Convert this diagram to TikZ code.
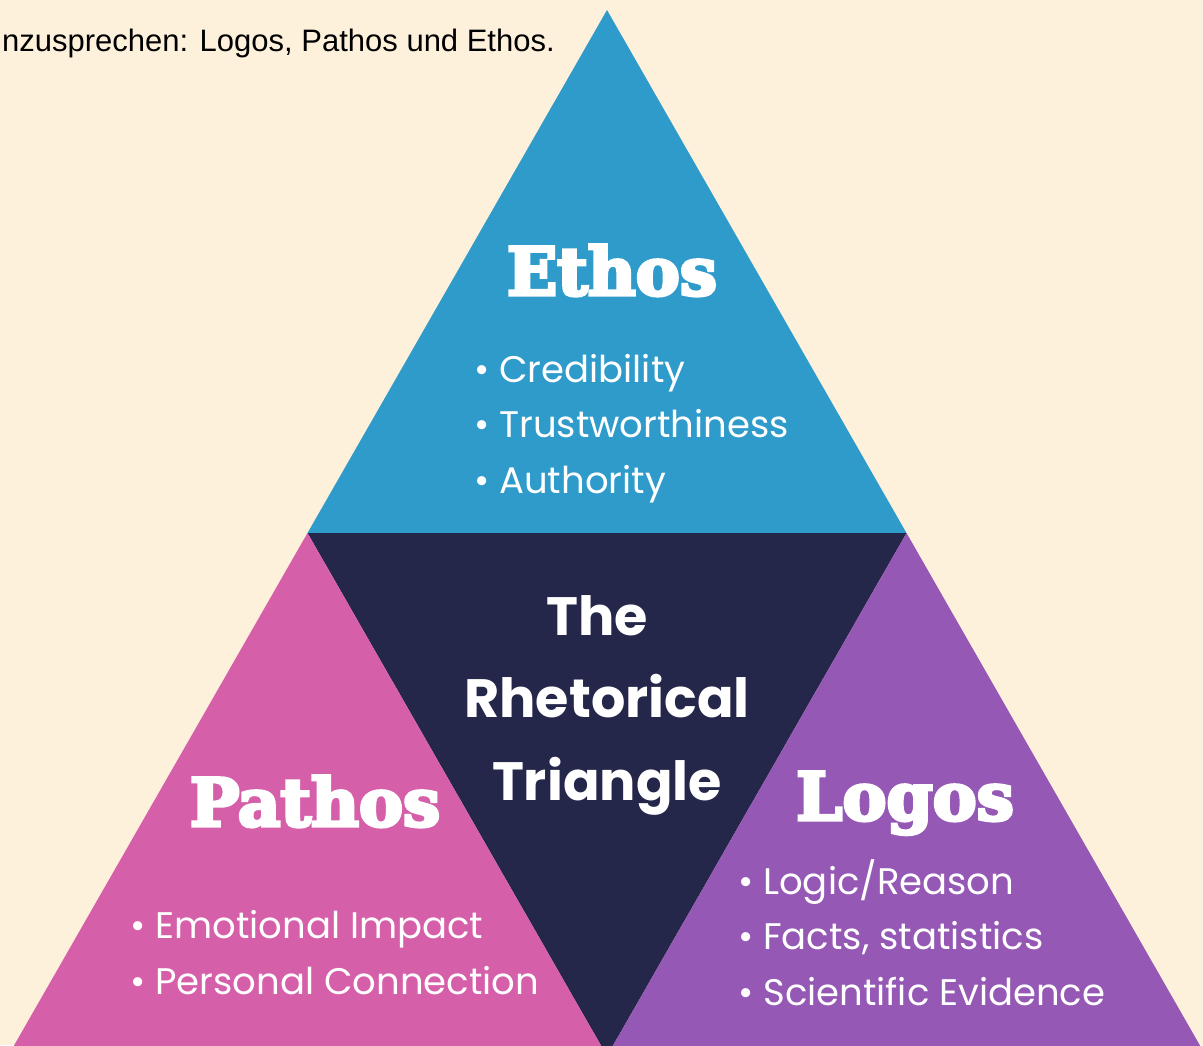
\documentclass[tikz,border=0pt]{standalone}
\usepackage{fontspec}
\setmainfont{Liberation Sans}
\newfontfamily\slabfont{DejaVu Serif Bold}[FakeBold=5]
\newfontfamily\popfont{Poppins}
\definecolor{bgc}{HTML}{FEF1DC}
\definecolor{ethosc}{HTML}{2F9BCB}
\definecolor{centerc}{HTML}{24264A}
\definecolor{pathosc}{HTML}{D65FAA}
\definecolor{logosc}{HTML}{9558B5}
\tikzset{
  head/.style={text=white, inner sep=0pt, font=\slabfont\fontsize{66}{66}\selectfont},
  maintitle/.style={text=white, inner sep=0pt, align=center, font=\popfont\bfseries\fontsize{54}{82.5}\selectfont},
  blist/.style={text=white, inner sep=0pt, align=left, font=\popfont\fontsize{37}{55.5}\selectfont},
  intro/.style={text=black, inner sep=0pt, font=\fontsize{31}{34}\selectfont},
}
\begin{document}
\begin{tikzpicture}[x=1pt,y=-1pt]
\useasboundingbox (0,0) rectangle (1203,1045);
\clip (0,0) rectangle (1203,1045);
\fill[bgc] (0,0) rectangle (1203,1045);
\coordinate (apex) at (607,10);
\coordinate (ml) at (307.5,533);
\coordinate (mr) at (906.5,533);
\coordinate (bl) at (8,1056);
\coordinate (bm) at (607,1056);
\coordinate (br) at (1206,1056);
\fill[ethosc] (apex) -- (ml) -- (mr) -- cycle;
\fill[centerc] (ml) -- (mr) -- (bm) -- cycle;
\fill[pathosc] (ml) -- (bl) -- (bm) -- cycle;
\fill[logosc] (mr) -- (bm) -- (br) -- cycle;
\node[intro, anchor=base east] (introtext) at (555,51) {nzusprechen: Logos, Pathos und Ethos.};
\node[head, anchor=base] (ethos) at (612,295) {Ethos};
\node[head, anchor=base] (pathos) at (315,826) {Pathos};
\node[head, anchor=base] (logos) at (905,820) {Logos};
\node[maintitle, anchor=base] (rt) at (607,800) {The\kern20pt\\Rhetorical\\Triangle};
\node[blist, anchor=base west] (ethlist) at (474,493) {\textbullet\ Credibility\\\textbullet\ Trustworthiness\\\textbullet\ Authority};
\node[blist, anchor=base west] (pathlist) at (130,994) {\textbullet\ Emotional Impact\\\textbullet\ Personal Connection};
\node[blist, anchor=base west] (loglist) at (738,1005) {\textbullet\ Logic/Reason\\\textbullet\ Facts, statistics\\\textbullet\ Scientific Evidence};
\end{tikzpicture}
\end{document}
